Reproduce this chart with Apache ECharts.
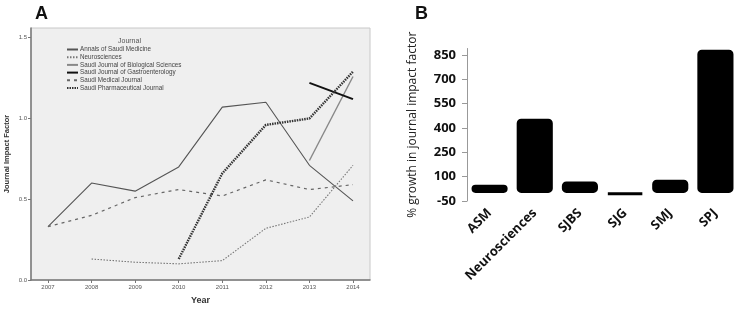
<!DOCTYPE html>
<html>
<head>
<meta charset="utf-8">
<script src="https://cdn.jsdelivr.net/npm/echarts@6/dist/echarts.min.js"></script>
<style>
html,body{margin:0;padding:0;background:#fff;}
#c{width:742px;height:310px;}
</style>
</head>
<body>
<div id="c"></div>
<script>
// Panel A data
var years = [2007, 2008, 2009, 2010, 2011, 2012, 2013, 2014];
var journals = ['Annals of Saudi Medicine', 'Neurosciences', 'Saudi Journal of Biological Sciences',
  'Saudi Journal of Gastroenterology', 'Saudi Medical Journal', 'Saudi Pharmaceutical Journal'];
var asmIF   = [0.33, 0.60, 0.55, 0.70, 1.07, 1.10, 0.71, 0.49];
var neuroIF = [null, 0.13, 0.11, 0.10, 0.12, 0.32, 0.39, 0.71];
var sjbsIF  = [null, null, null, null, null, null, 0.74, 1.26];
var sjgIF   = [null, null, null, null, null, null, 1.22, 1.12];
var smjIF   = [0.33, 0.40, 0.51, 0.56, 0.52, 0.62, 0.56, 0.59];
var spjIF   = [null, null, null, 0.13, 0.66, 0.96, 1.00, 1.29];
var yTicksA = [0, 0.5, 1.0, 1.5];

// Panel B data
var abbrevs = ['ASM', 'Neurosciences', 'SJBS', 'SJG', 'SMJ', 'SPJ'];
var growth  = [50, 457, 70, -10, 81, 882];
var yTicksB = [-50, 100, 250, 400, 550, 700, 850];

function pairs(arr) {
  var out = [];
  for (var i = 0; i < years.length; i++) {
    if (arr[i] !== null) out.push([years[i], arr[i]]);
  }
  return out;
}

var styles = [
  {color: '#555', width: 1.1, type: 'solid'},
  {color: '#777', width: 1.1, type: [1.5, 1.5]},
  {color: '#888', width: 1.4, type: 'solid'},
  {color: '#111', width: 2, type: 'solid'},
  {color: '#666', width: 1.2, type: [3, 4]},
  {color: '#333', width: 2.4, type: [1.5, 1]}
];
var dataA = [asmIF, neuroIF, sjbsIF, sjgIF, smjIF, spjIF];

var seriesA = journals.map(function (name, i) {
  return {
    name: name, type: 'line', xAxisIndex: 0, yAxisIndex: 0,
    data: pairs(dataA[i]), symbol: 'none', showSymbol: false, silent: true,
    lineStyle: styles[i], itemStyle: {color: styles[i].color}
  };
});

var chart = echarts.init(document.getElementById('c'), null, {renderer: 'canvas'});
var option = {
  animation: false,
  backgroundColor: '#fff',
  textStyle: {fontFamily: 'Liberation Sans'},
  title: [
    {text: 'A', left: 30, top: 0, textStyle: {fontSize: 18, fontWeight: 'bold', color: '#111', fontFamily: 'Liberation Sans'}},
    {text: 'B', left: 410, top: 0, textStyle: {fontSize: 18, fontWeight: 'bold', color: '#111', fontFamily: 'Liberation Sans'}},
    {text: 'Journal', left: 113, top: 33, textStyle: {fontSize: 7, fontWeight: 'normal', color: '#555', fontFamily: 'Liberation Sans'}}
  ],
  legend: {
    data: journals, orient: 'vertical', left: 66, top: 46.5,
    itemWidth: 11, itemHeight: 6, itemGap: 1.7, padding: 0,
    itemStyle: {color: 'transparent', borderColor: 'transparent', borderWidth: 0, opacity: 0},
    textStyle: {fontSize: 6.3, color: '#444', padding: [0, 0, 0, -3]},
    selectedMode: false
  },
  grid: [
    {left: 31, right: 372, top: 28, bottom: 29, show: true, backgroundColor: '#efefef', borderColor: '#c8c8c8', borderWidth: 1},
    {left: 467, right: 4, top: 48.5, bottom: 109}
  ],
  xAxis: [
    {
      type: 'value', gridIndex: 0, min: 2006.61, max: 2014.39,
      name: 'Year', nameLocation: 'middle', nameGap: 16,
      nameTextStyle: {fontSize: 9, fontWeight: 'bold', color: '#333'},
      axisLine: {show: true, lineStyle: {color: '#777', width: 1.5}},
      axisTick: {show: true, length: 3, lineStyle: {color: '#777'}, customValues: years},
      axisLabel: {fontSize: 6, color: '#555', margin: 4, customValues: years, formatter: function (v) { return String(v); }},
      splitLine: {show: false}
    },
    {
      type: 'category', gridIndex: 1, data: abbrevs,
      axisLine: {show: false}, axisTick: {show: false},
      axisLabel: {rotate: 45, fontSize: 13, fontWeight: 'bold', color: '#111', margin: 10, interval: 0, fontFamily: 'Open Sans'}
    }
  ],
  yAxis: [
    {
      type: 'value', gridIndex: 0, min: 0, max: 1.56,
      name: 'Journal Impact Factor', nameLocation: 'middle', nameGap: 20,
      nameTextStyle: {fontSize: 7.5, fontWeight: 'bold', color: '#333'},
      axisLine: {show: true, lineStyle: {color: '#777', width: 1.5}},
      axisTick: {show: true, length: 3, lineStyle: {color: '#777'}, customValues: yTicksA},
      axisLabel: {fontSize: 6, color: '#555', margin: 4, customValues: yTicksA, formatter: function (v) { return v.toFixed(1); }},
      splitLine: {show: false}
    },
    {
      type: 'value', gridIndex: 1, min: -50, max: 890,
      name: '% growth in journal impact factor', nameLocation: 'middle', nameGap: 48,
      nameTextStyle: {fontSize: 12, color: '#222', fontFamily: 'Open Sans'},
      axisLine: {show: true, lineStyle: {color: '#999', width: 1}},
      axisTick: {show: true, length: 5, lineStyle: {color: '#999'}, customValues: yTicksB},
      axisLabel: {fontSize: 13, fontWeight: 'bold', color: '#111', margin: 11, fontFamily: 'Open Sans', customValues: yTicksB},
      splitLine: {show: false}
    }
  ],
  series: seriesA.concat([
    {
      type: 'bar', xAxisIndex: 1, yAxisIndex: 1, data: growth, barWidth: '80%',
      itemStyle: {color: '#000', borderColor: '#000', borderWidth: 3, borderRadius: 3}, silent: true
    }
  ])
};
chart.setOption(option);
</script>
</body>
</html>
